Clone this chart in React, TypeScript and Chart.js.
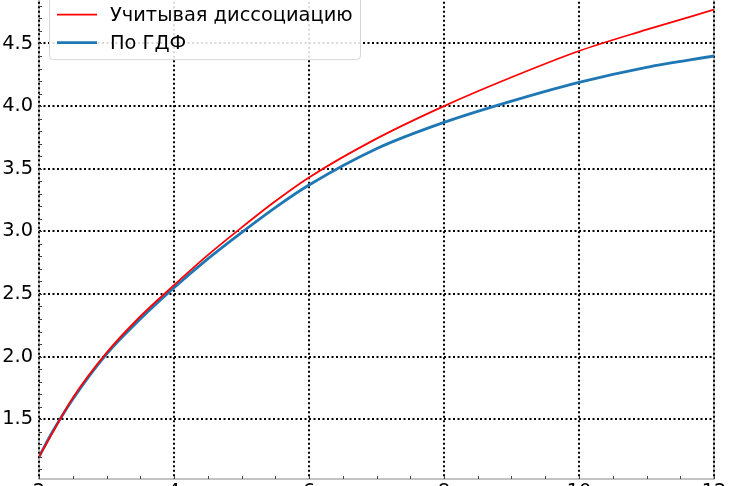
import React, { useEffect, useRef } from "react";
import { Chart, registerables } from "chart.js";
Chart.register(...registerables);

const redX = [2, 2.25, 2.5, 3, 3.5, 4, 4.5, 5, 5.5, 6, 7, 8, 9, 10, 11, 12];
const redY = [1.2, 1.44, 1.67, 2.03, 2.32, 2.57, 2.81, 3.03, 3.24, 3.43, 3.74, 4.0, 4.23, 4.44, 4.61, 4.77];
const blueX = [2, 2.2, 2.5, 3, 3.5, 4, 4.5, 5, 5.5, 6, 7, 8, 9, 10, 11, 12];
const blueY = [1.2, 1.4, 1.66, 2.02, 2.3, 2.55, 2.78, 2.99, 3.19, 3.37, 3.66, 3.87, 4.04, 4.19, 4.31, 4.4];
const xTicks = [2, 4, 6, 8, 10, 12];
const yTicks = [1.5, 2.0, 2.5, 3.0, 3.5, 4.0, 4.5];
const seriesNames = ["Учитывая диссоциацию", "По ГДФ"];
const seriesColors = ["#ff0000", "#1f77b4"];
const FONT = "'DejaVu Sans', sans-serif";
const FS = 19.4;
const SHIFT = 16;

const framePlugin = {
  id: "frame",
  beforeDraw(chart: any) {
    const { ctx, chartArea: a } = chart;
    ctx.save();
    ctx.fillStyle = "#ffffff";
    ctx.fillRect(0, 0, chart.width, chart.height);
    ctx.strokeStyle = "#b0b0b0";
    ctx.lineWidth = 1.5;
    ctx.beginPath();
    ctx.moveTo(a.left, a.top - 2);
    ctx.lineTo(a.left, a.bottom);
    ctx.lineTo(a.right, a.bottom);
    ctx.lineTo(a.right, a.top - 2);
    ctx.stroke();
    ctx.restore();
  },
  afterDraw(chart: any) {
    const { ctx, chartArea: a, scales } = chart;
    ctx.save();
    ctx.strokeStyle = "#444444";
    ctx.lineWidth = 1;
    for (let v = 11; v <= 48; v++) {
      const y = Math.round(scales.y.getPixelForValue(v / 10)) + 0.5;
      if (y < a.top || y > a.bottom) continue;
      ctx.beginPath();
      ctx.moveTo(a.left, y);
      ctx.lineTo(a.left + 3, y);
      ctx.stroke();
    }
    for (let v = 4; v <= 24; v++) {
      const x = Math.round(scales.x.getPixelForValue(v / 2)) + 0.5;
      ctx.beginPath();
      ctx.moveTo(x, a.bottom);
      ctx.lineTo(x, a.bottom - 3);
      ctx.stroke();
    }
    // legend
    const bx = 49.5, by = a.top - 6, bw = 311, bh = 64, r = 4;
    ctx.beginPath();
    ctx.moveTo(bx + r, by);
    ctx.lineTo(bx + bw - r, by);
    ctx.quadraticCurveTo(bx + bw, by, bx + bw, by + r);
    ctx.lineTo(bx + bw, by + bh - r);
    ctx.quadraticCurveTo(bx + bw, by + bh, bx + bw - r, by + bh);
    ctx.lineTo(bx + r, by + bh);
    ctx.quadraticCurveTo(bx, by + bh, bx, by + bh - r);
    ctx.lineTo(bx, by + r);
    ctx.quadraticCurveTo(bx, by, bx + r, by);
    ctx.closePath();
    ctx.fillStyle = "rgba(255,255,255,0.85)";
    ctx.fill();
    ctx.strokeStyle = "#d6d6d6";
    ctx.lineWidth = 1;
    ctx.stroke();
    const rows = [a.top + 13, a.top + 41];
    const widths = [1.8, 2.8];
    ctx.font = `${FS}px ${FONT}`;
    ctx.textBaseline = "middle";
    ctx.textAlign = "left";
    for (let i = 0; i < 2; i++) {
      ctx.strokeStyle = seriesColors[i];
      ctx.lineWidth = widths[i];
      ctx.beginPath();
      ctx.moveTo(57, rows[i]);
      ctx.lineTo(97, rows[i]);
      ctx.stroke();
      ctx.fillStyle = "#000000";
      ctx.fillText(seriesNames[i], 110, rows[i] + 1);
    }
    ctx.restore();
  },
};

export default function App() {
  const ref = useRef<HTMLCanvasElement>(null);
  useEffect(() => {
    if (!ref.current) return;
    const chart = new Chart(ref.current, {
      type: "scatter",
      data: {
        datasets: [
          {
            label: seriesNames[0],
            data: redX.map((x, i) => ({ x, y: redY[i] })),
            showLine: true,
            borderColor: seriesColors[0],
            borderWidth: 1.8,
            pointRadius: 0,
            cubicInterpolationMode: "monotone",
          },
          {
            label: seriesNames[1],
            data: blueX.map((x, i) => ({ x, y: blueY[i] })),
            showLine: true,
            borderColor: seriesColors[1],
            borderWidth: 2.8,
            pointRadius: 0,
            cubicInterpolationMode: "monotone",
          },
        ],
      },
      options: {
        animation: false,
        responsive: false,
        devicePixelRatio: 1,
        layout: { padding: { left: 0, right: 16, top: 0, bottom: 0 } },
        plugins: { legend: { display: false }, tooltip: { enabled: false } },
        scales: {
          x: {
            type: "linear",
            min: 2,
            max: 12,
            afterFit: (s: any) => { s.height = 40; },
            afterBuildTicks: (s: any) => { s.ticks = xTicks.map((v) => ({ value: v })); },
            border: { display: false, dash: [2, 2.5] },
            grid: { color: "#000000", lineWidth: 2, drawTicks: false },
            ticks: { color: "#000000", padding: 1, font: { family: FONT, size: FS }, callback: (v: any) => String(v), maxRotation: 0 },
          },
          y: {
            type: "linear",
            min: 1.0226,
            max: 4.834,
            afterFit: (s: any) => { s.width = 39; },
            afterBuildTicks: (s: any) => { s.ticks = yTicks.map((v) => ({ value: v })); },
            border: { display: false, dash: [2, 2.5] },
            grid: { color: "#000000", lineWidth: 2, drawTicks: false },
            ticks: { color: "#000000", padding: 6, font: { family: FONT, size: FS }, callback: (v: any) => Number(v).toFixed(1) },
          },
        },
      } as any,
      plugins: [framePlugin],
    });
    return () => chart.destroy();
  }, []);
  return (
    <div style={{ position: "fixed", left: 0, top: -SHIFT, width: 730, height: 519 + SHIFT }}>
      <canvas ref={ref} width={730} height={519 + SHIFT} />
    </div>
  );
}
